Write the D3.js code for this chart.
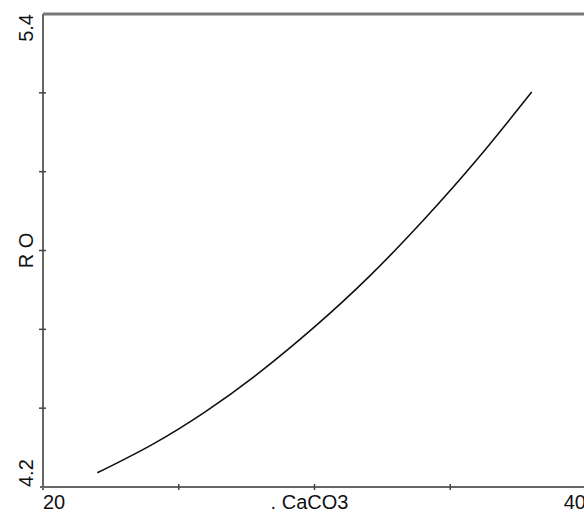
<!DOCTYPE html>
<html>
<head>
<meta charset="utf-8">
<script src="https://cdn.jsdelivr.net/npm/d3@7"></script>
<style>
    body { margin: 0; background: #fff; }
    svg { display: block; }
    text { font-family: "Liberation Sans", Arial, sans-serif; fill: #111; }
</style>
</head>
<body>
<div id="chart"></div>
<script>
// CaCO3 vs R O curve
const caco3 = [22.0, 24.0, 26.0, 28.0, 30.0, 32.0, 34.0, 36.0, 38.0];
const ro = [4.236, 4.307, 4.392, 4.492, 4.606, 4.733, 4.876, 5.032, 5.202];

const xTicks = [20, 25, 30, 35, 40];
const xTickLabels = ["20", "", "", "", "40"];
const yTicks = [4.2, 4.4, 4.6, 4.8, 5.0, 5.2, 5.4];
const yTickLabels = ["4.2", "", "", "", "", "", "5.4"];

const width = 584;
const height = 515;
const margin = { top: 14, right: -2, bottom: 28, left: 43 };

const svg = d3.select("#chart")
    .append("svg")
    .attr("width", width)
    .attr("height", height);

const x = d3.scaleLinear()
    .domain([20, 40])
    .range([margin.left, width - margin.right]);

const y = d3.scaleLinear()
    .domain([4.2, 5.4])
    .range([height - margin.bottom, margin.top]);

// top frame line
svg.append("line")
    .attr("x1", x(20))
    .attr("x2", width)
    .attr("y1", y(5.4))
    .attr("y2", y(5.4))
    .attr("stroke", "#777")
    .attr("stroke-width", 3);

// bottom axis
svg.append("line")
    .attr("x1", x(20) - 3)
    .attr("x2", width)
    .attr("y1", y(4.2))
    .attr("y2", y(4.2))
    .attr("stroke", "#666")
    .attr("stroke-width", 2);

svg.selectAll(".xtick")
    .data(xTicks.slice(1, -1))
    .enter()
    .append("line")
    .attr("class", "xtick")
    .attr("x1", d => x(d))
    .attr("x2", d => x(d))
    .attr("y1", y(4.2) - 3)
    .attr("y2", y(4.2) + 3)
    .attr("stroke", "#444")
    .attr("stroke-width", 1.5);

svg.selectAll(".xlabel")
    .data(xTicks)
    .enter()
    .append("text")
    .attr("class", "xlabel")
    .attr("x", d => x(d))
    .attr("y", y(4.2) + 22)
    .attr("font-size", 20)
    .attr("text-anchor", (d, i) => i === 0 ? "start" : "end")
    .text((d, i) => xTickLabels[i]);

// left axis
svg.append("line")
    .attr("x1", x(20))
    .attr("x2", x(20))
    .attr("y1", y(5.4))
    .attr("y2", y(4.2) + 3)
    .attr("stroke", "#666")
    .attr("stroke-width", 2);

svg.selectAll(".ytick")
    .data(yTicks.slice(1, -1))
    .enter()
    .append("line")
    .attr("class", "ytick")
    .attr("x1", x(20) - 4)
    .attr("x2", x(20) + 3)
    .attr("y1", d => y(d))
    .attr("y2", d => y(d))
    .attr("stroke", "#444")
    .attr("stroke-width", 1.5);

svg.selectAll(".ylabel")
    .data(yTicks)
    .enter()
    .append("text")
    .attr("class", "ylabel")
    .attr("transform", d => `translate(33,${y(d)}) rotate(-90)`)
    .attr("font-size", 20)
    .attr("text-anchor", (d, i) => i === 0 ? "start" : "end")
    .text((d, i) => yTickLabels[i]);

// axis titles
svg.append("text")
    .attr("x", x(30) - 5)
    .attr("y", y(4.2) + 22)
    .attr("font-size", 20)
    .attr("text-anchor", "middle")
    .text(". CaCO3");

svg.append("text")
    .attr("transform", `translate(33,${y(4.8)}) rotate(-90)`)
    .attr("font-size", 20)
    .attr("text-anchor", "middle")
    .text("R O");

// curve
const line = d3.line()
    .x((d, i) => x(caco3[i]))
    .y(d => y(d))
    .curve(d3.curveNatural);

svg.append("path")
    .datum(ro)
    .attr("d", line)
    .attr("fill", "none")
    .attr("stroke", "#111")
    .attr("stroke-width", 1.6);
</script>
</body>
</html>
